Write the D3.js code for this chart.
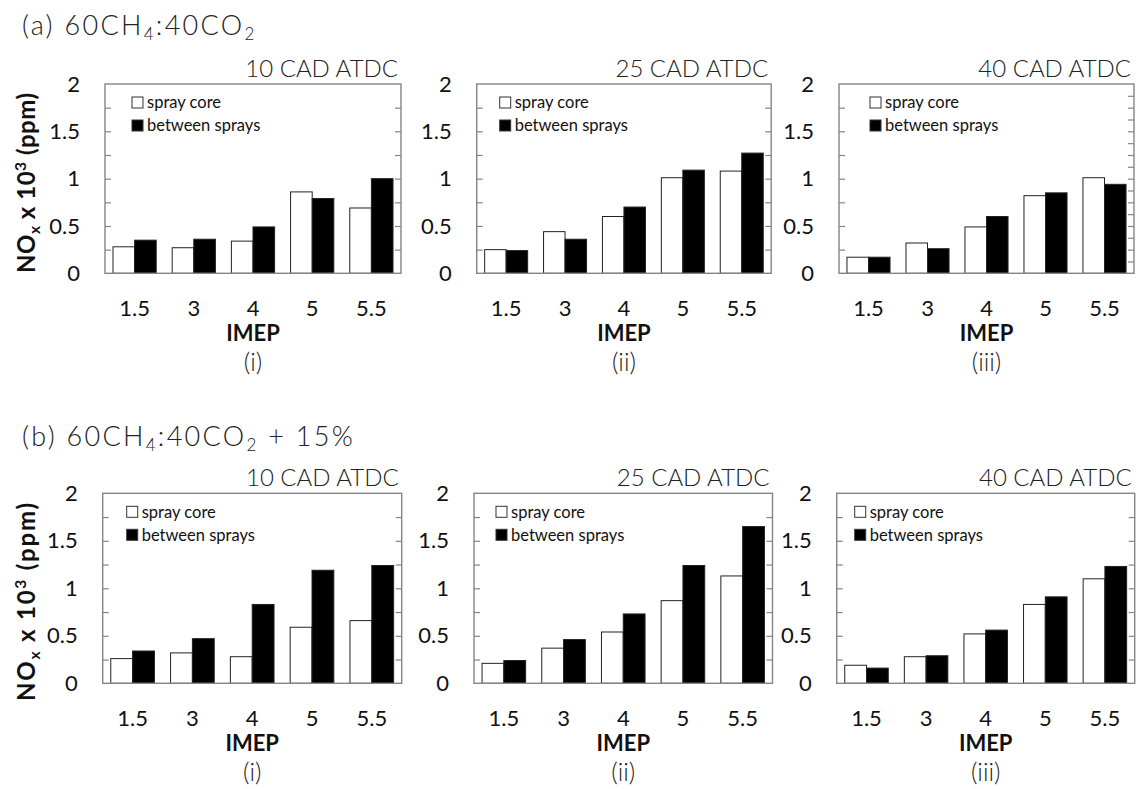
<!DOCTYPE html>
<html>
<head>
<meta charset="utf-8">
<script src="https://cdn.jsdelivr.net/npm/d3@7/dist/d3.min.js"></script>
<style>
  html, body { margin: 0; padding: 0; background: #fff; }
  svg { display: block; }
  .tick-label { font-family: Lato, "Open Sans", sans-serif; font-size: 22px; fill: #111; }
  .legend-text { font-family: Lato, "Open Sans", sans-serif; font-size: 16.5px; fill: #111; }
  .light { font-family: Lato, "Open Sans", sans-serif; font-weight: 300; fill: #222; }
  .heading { font-family: Lato, "Open Sans", sans-serif; font-weight: 300; fill: #222; letter-spacing: 2.3px; }
  .bold { font-family: Lato, "Open Sans", sans-serif; font-weight: 700; fill: #111; }
</style>
</head>
<body>
<svg id="chart" width="1144" height="789"></svg>
<script>
// IMEP categories and y ticks shared by every panel
const imep = ["1.5", "3", "4", "5", "5.5"];
const seriesNames = ["spray core", "between sprays"];
const yLabelTicks = [0, 0.5, 1, 1.5, 2];
const timings = ["10 CAD ATDC", "25 CAD ATDC", "40 CAD ATDC"];
const panelNumerals = ["(i)", "(ii)", "(iii)"];

// NOx x 10^3 (ppm), 60CH4:40CO2
const a10Core    = [0.28, 0.27, 0.34, 0.86, 0.69];
const a10Between = [0.35, 0.36, 0.49, 0.79, 1.00];
const a25Core    = [0.25, 0.44, 0.60, 1.01, 1.08];
const a25Between = [0.24, 0.36, 0.70, 1.09, 1.27];
const a40Core    = [0.17, 0.32, 0.49, 0.82, 1.01];
const a40Between = [0.17, 0.26, 0.60, 0.85, 0.94];

// NOx x 10^3 (ppm), 60CH4:40CO2 + 15%
const b10Core    = [0.26, 0.32, 0.28, 0.59, 0.66];
const b10Between = [0.34, 0.47, 0.83, 1.19, 1.24];
const b25Core    = [0.21, 0.37, 0.54, 0.87, 1.13];
const b25Between = [0.24, 0.46, 0.73, 1.24, 1.65];
const b40Core    = [0.19, 0.28, 0.52, 0.83, 1.10];
const b40Between = [0.16, 0.29, 0.56, 0.91, 1.23];

const svg = d3.select("#chart");

// Page layout of the two rows of panels
const rows = [
  {
    prefix: "(a) ", titleY: 35, top: 84, bottom: 273.3, suffix: "",
    yTitleCenter: 183, yTitleLength: 180,
    panels: [
      { left: 105, right: 401, core: a10Core, between: a10Between, legendDx: 27, rightStep: 0.25 },
      { left: 476.7, right: 771.2, core: a25Core, between: a25Between, legendDx: 23, rightStep: 0.25 },
      { left: 839, right: 1134, core: a40Core, between: a40Between, legendDx: 31, rightStep: 0.125 }
    ]
  },
  {
    prefix: "(b) ", titleY: 446, top: 493.3, bottom: 683.3, suffix: " + 15%",
    yTitleCenter: 602, yTitleLength: 198,
    panels: [
      { left: 102.7, right: 401.7, core: b10Core, between: b10Between, legendDx: 24, rightStep: 0.25 },
      { left: 474, right: 772.5, core: b25Core, between: b25Between, legendDx: 22, rightStep: 0.25 },
      { left: 836.7, right: 1134.7, core: b40Core, between: b40Between, legendDx: 18, rightStep: 0.25 }
    ]
  }
];

const frameColor = "#858585";

rows.forEach(row => {
  // Row heading: (a) 60CH4:40CO2
  const t = svg.append("text").attr("class", "heading")
    .attr("x", 22).attr("y", row.titleY).style("font-size", "27px");
  t.append("tspan").text(row.prefix + "60CH");
  t.append("tspan").text("4").style("font-size", "17px").attr("dy", 5);
  t.append("tspan").text(":40CO").attr("dy", -5);
  t.append("tspan").text("2").style("font-size", "17px").attr("dy", 5);
  t.append("tspan").text(row.suffix).attr("dy", -5);

  // Shared y-axis title
  const yfs = 24;
  const yt = svg.append("text").attr("class", "bold")
    .attr("transform", `translate(35,${row.yTitleCenter}) rotate(-90)`)
    .attr("text-anchor", "middle")
    .attr("textLength", row.yTitleLength)
    .attr("lengthAdjust", "spacing")
    .style("font-size", yfs + "px");
  yt.append("tspan").text("NO");
  yt.append("tspan").text("x").style("font-size", (yfs * 0.65) + "px").attr("dy", 5);
  yt.append("tspan").text(" x 10").attr("dy", -5);
  yt.append("tspan").text("3").style("font-size", (yfs * 0.65) + "px").attr("dy", -9);
  yt.append("tspan").text(" (ppm)").attr("dy", 9);

  row.panels.forEach((p, i) => {
    const g = svg.append("g");
    const y = d3.scaleLinear().domain([0, 2]).range([row.bottom, row.top]);
    const x = d3.scaleBand().domain(imep).range([p.left, p.right])
      .paddingInner(0.27).paddingOuter(0.135);
    const xs = d3.scaleBand().domain(seriesNames).range([0, x.bandwidth()]);

    // Bars
    const rowsData = imep.map((k, j) => ({ k, vals: [p.core[j], p.between[j]] }));
    const grp = g.selectAll("g.grp").data(rowsData).join("g")
      .attr("class", "grp")
      .attr("transform", d => `translate(${x(d.k)},0)`);
    grp.selectAll("rect").data(d => d.vals.map((v, s) => ({ v, s: seriesNames[s] })))
      .join("rect")
      .attr("x", d => xs(d.s))
      .attr("width", xs.bandwidth())
      .attr("y", d => y(d.v))
      .attr("height", d => y(0) - y(d.v))
      .attr("fill", d => d.s === seriesNames[0] ? "#fff" : "#000")
      .attr("stroke", "#222")
      .attr("stroke-width", 1);

    // Inward ticks on left and right edges
    const leftTicks = d3.range(0.25, 2, 0.25);
    g.append("g").attr("transform", `translate(${p.left},0)`)
      .call(d3.axisRight(y).tickValues(leftTicks).tickSize(6).tickFormat(""))
      .call(a => a.select(".domain").remove())
      .call(a => a.selectAll("line").attr("stroke", frameColor).attr("stroke-width", 1.2));
    const rightTicks = d3.range(p.rightStep, 2 - 1e-9, p.rightStep);
    g.append("g").attr("transform", `translate(${p.right},0)`)
      .call(d3.axisLeft(y).tickValues(rightTicks).tickSize(6).tickFormat(""))
      .call(a => a.select(".domain").remove())
      .call(a => a.selectAll("line").attr("stroke", frameColor).attr("stroke-width", 1.2));

    // Frame
    g.append("rect")
      .attr("x", p.left).attr("y", row.top)
      .attr("width", p.right - p.left).attr("height", row.bottom - row.top)
      .attr("fill", "none").attr("stroke", frameColor).attr("stroke-width", 1.4);

    // Y tick labels
    g.append("g").attr("transform", `translate(${p.left},0)`)
      .call(d3.axisLeft(y).tickValues(yLabelTicks).tickSize(0).tickPadding(25)
        .tickFormat(d => String(d)))
      .call(a => a.select(".domain").remove())
      .call(a => a.selectAll("text").attr("class", "tick-label")
        .attr("fill", null).attr("font-size", null).attr("font-family", null));

    // X tick labels
    g.append("g").attr("transform", `translate(0,${row.bottom})`)
      .call(d3.axisBottom(x).tickSize(0).tickPadding(0))
      .call(a => a.select(".domain").remove())
      .call(a => a.selectAll("text").attr("class", "tick-label")
        .attr("fill", null).attr("font-size", null).attr("font-family", null)
        .attr("dy", null).attr("y", 42.5));

    const cx = (p.left + p.right) / 2;
    g.append("text").attr("class", "bold")
      .attr("x", cx).attr("y", row.bottom + 67.6)
      .attr("text-anchor", "middle").style("font-size", "22px").text("IMEP");
    g.append("text").attr("class", "light")
      .attr("x", cx).attr("y", row.bottom + 98)
      .attr("text-anchor", "middle").style("font-size", "25px").text(panelNumerals[i]);

    // Timing label above the frame
    g.append("text").attr("class", "light")
      .attr("x", p.right - 3).attr("y", row.top - 7)
      .attr("text-anchor", "end").style("font-size", "24px").text(timings[i]);

    // Legend
    const lg = g.append("g").attr("transform", `translate(${p.left + p.legendDx},${row.top + 13})`);
    seriesNames.forEach((name, s) => {
      lg.append("rect").attr("x", 0).attr("y", s * 23).attr("width", 11).attr("height", 11)
        .attr("fill", s === 0 ? "#fff" : "#000").attr("stroke", "#333").attr("stroke-width", 1);
      lg.append("text").attr("class", "legend-text")
        .attr("x", 15).attr("y", s * 23 + 5.5).attr("dy", "0.35em").text(name);
    });
  });
});
</script>
</body>
</html>
